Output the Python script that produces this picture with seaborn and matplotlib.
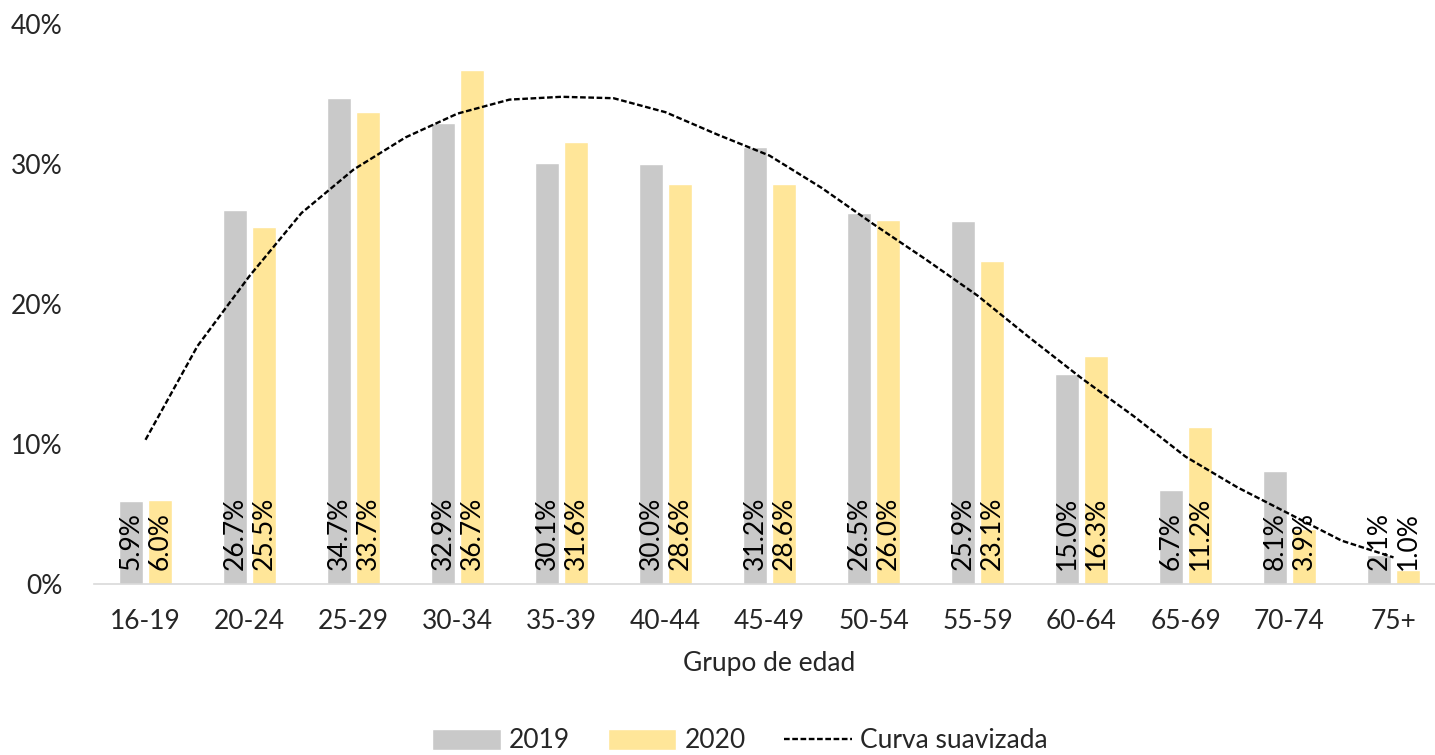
import numpy as np
import pandas as pd
import seaborn as sns
import matplotlib.pyplot as plt

grupos = ['16-19', '20-24', '25-29', '30-34', '35-39', '40-44', '45-49',
          '50-54', '55-59', '60-64', '65-69', '70-74', '75+']
v2019 = [5.9, 26.7, 34.7, 32.9, 30.1, 30.0, 31.2, 26.5, 25.9, 15.0, 6.7, 8.1, 2.1]
v2020 = [6.0, 25.5, 33.7, 36.7, 31.6, 28.6, 28.6, 26.0, 23.1, 16.3, 11.2, 3.9, 1.0]

curva_x = [0, 0.5, 1, 1.5, 2, 2.5, 3, 3.5, 4, 4.5, 5, 5.5, 6, 6.5, 7, 7.5,
           8, 8.5, 9, 9.5, 10, 10.5, 11, 11.5, 12]
curva_y = [10.3, 17.0, 22.0, 26.5, 29.6, 31.9, 33.6, 34.6, 34.8, 34.7, 33.7,
           32.1, 30.6, 28.3, 25.7, 23.2, 20.6, 17.6, 14.7, 12.0, 9.1, 6.9,
           5.0, 3.1, 1.9]


def main():
    sns.set_theme(style='white')
    plt.rcParams['font.family'] = ['Lato', 'DejaVu Sans']
    texto = '#262626'
    fs = 19

    df = pd.DataFrame({
        'grupo': grupos * 2,
        'valor': v2019 + v2020,
        'anio': ['2019'] * len(grupos) + ['2020'] * len(grupos),
    })

    fig = plt.figure(figsize=(14.35, 7.55), dpi=100)
    ax = fig.add_axes([93.5 / 1435, 1 - 584 / 755, 1352 / 1435, 560 / 755])

    sns.barplot(data=df, x='grupo', y='valor', hue='anio',
                palette={'2019': '#C9C9C9', '2020': '#FFE699'},
                width=0.558, gap=0.175, saturation=1, ax=ax)

    sns.lineplot(x=curva_x, y=curva_y, color='black', linewidth=1.7,
                 dashes=False, ax=ax, label='Curva suavizada')
    ax.lines[-1].set_dashes((2.4, 1.1))

    for cont in ax.containers:
        for bar in cont:
            h = bar.get_height()
            ax.annotate(f'{h:.1f}%', (bar.get_x() + bar.get_width() / 2, 0),
                        xytext=(0, 10), textcoords='offset points',
                        rotation=90, ha='center', va='bottom',
                        fontsize=fs, color='black')

    ax.set_ylim(0, 40)
    ax.set_xlim(-0.5, 12.5)
    ax.set_yticks([0, 10, 20, 30, 40])
    ax.set_yticklabels(['0%', '10%', '20%', '30%', '40%'])
    ax.tick_params(axis='y', length=0, pad=22, labelsize=fs, labelcolor=texto)
    ax.tick_params(axis='x', length=0, pad=18, labelsize=fs, labelcolor=texto)
    ax.set_xlabel('Grupo de edad', fontsize=fs, color=texto, labelpad=12)
    ax.set_ylabel('')

    sns.despine(ax=ax, left=True)
    ax.spines['bottom'].set_color('#D9D9D9')
    ax.spines['bottom'].set_linewidth(1.2)

    handles, labels = ax.get_legend_handles_labels()
    ax.get_legend().remove()
    fig.legend(handles, labels, loc='center', bbox_to_anchor=(740 / 1435, 1 - 741 / 755),
               ncol=3, frameon=False, fontsize=fs, handlelength=2.6,
               handleheight=0.87, handletextpad=0.3, columnspacing=1.44,
               labelcolor=texto)

    plt.savefig('out.png', dpi=100)


if __name__ == '__main__':
    main()
